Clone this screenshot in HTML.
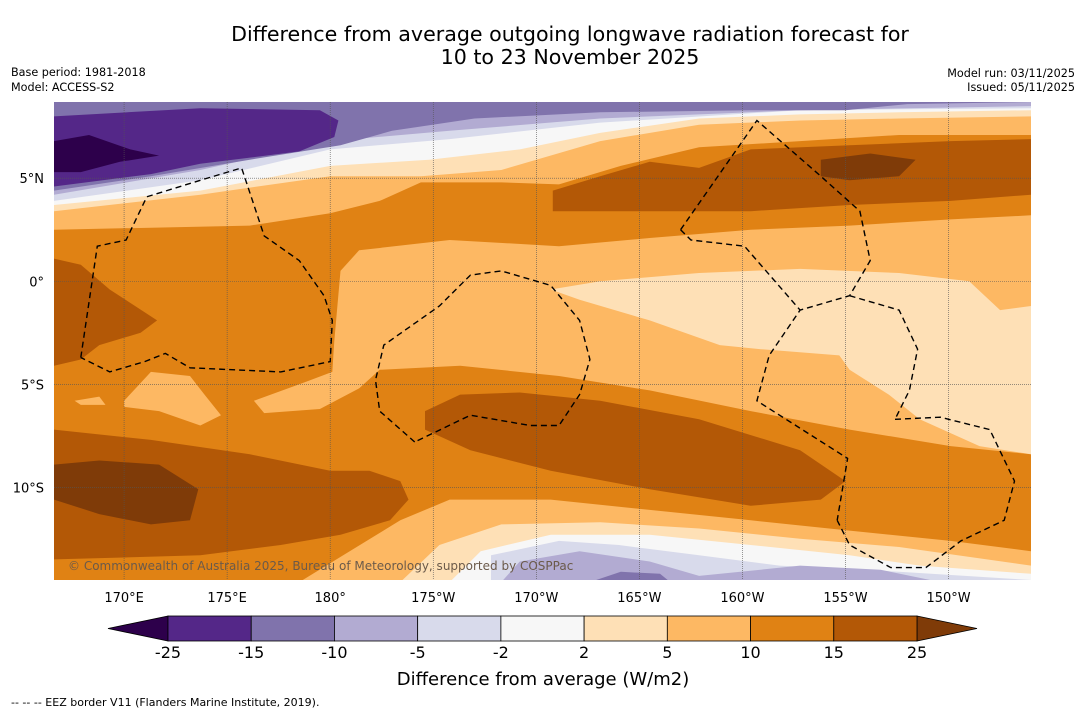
<!DOCTYPE html>
<html><head><meta charset="utf-8"><style>
html,body{margin:0;padding:0;background:#fff;}
svg{display:block;font-family:"DejaVu Sans","Liberation Sans",sans-serif;}
</style></head><body>
<svg id="chart" width="1085" height="713" viewBox="0 0 1085 713">
<text x="570" y="41" font-size="20.6" text-anchor="middle">Difference from average outgoing longwave radiation forecast for</text>
<text x="570" y="64" font-size="20.6" text-anchor="middle">10 to 23 November 2025</text>
<text x="11" y="76" font-size="11.2">Base period: 1981-2018</text>
<text x="11" y="91" font-size="11.2">Model: ACCESS-S2</text>
<text x="1075" y="77" font-size="11.2" text-anchor="end">Model run: 03/11/2025</text>
<text x="1075" y="91" font-size="11.2" text-anchor="end">Issued: 05/11/2025</text>
<defs><clipPath id="mapclip"><rect x="54" y="102" width="977" height="478"/></clipPath></defs>
<g id="map" clip-path="url(#mapclip)"></g>
<g id="axes"></g>
<g id="cbar"></g>
<text x="543" y="685" font-size="18" text-anchor="middle">Difference from average (W/m2)</text>
<text x="11" y="706" font-size="11">--  --  -- EEZ border V11 (Flanders Marine Institute, 2019).</text>
</svg>
<script>
// axis
const lonMin=166.6, lonMax=214.0, latMax=8.7, latMin=-14.5;
const X0=54, X1=1031, Y0=102, Y1=580;
function X(lon){return X0+(lon-lonMin)/(lonMax-lonMin)*(X1-X0);}
function Y(lat){return Y0+(latMax-lat)/(latMax-latMin)*(Y1-Y0);}
const lonTicks=[170,175,180,185,190,195,200,205,210];
const lonTickLabels=["170°E","175°E","180°","175°W","170°W","165°W","160°W","155°W","150°W"];
const latTicks=[5,0,-5,-10];
const latTickLabels=["5°N","0°","5°S","10°S"];
// colour levels
const levels=["-25","-15","-10","-5","-2","2","5","10","15","25"];
const colors=["#2d004b","#542788","#8073ac","#b2abd2","#d8daeb","#f7f7f7","#fee0b6","#fdb863","#e08214","#b35806","#7f3b08"];
// contour bands (lon, lat arrays) in painter order
const topFdbLon=[166.6,171.3,176.1,180,182.4,184.4,188.3,191.1,194.1,197.9,202.8,207.6,214,214,166.6];
const topFdbLat=[2.5,2.6,2.7,3.3,3.9,4.8,4.8,4.7,5.6,6.5,6.8,7.1,7.1,8.7,8.7];
const topFeeLon=[166.6,173.7,180,184.4,188.3,193.1,197.9,202.8,207.6,214,214,166.6];
const topFeeLat=[3.4,4.2,5.1,5.1,5.4,6.8,7.6,7.8,7.9,8.0,8.7,8.7];
const topWhiteLon=[166.6,173.7,180,184.8,189.2,193.1,197.9,202.8,207.6,214,214,166.6];
const topWhiteLat=[3.7,4.4,5.6,5.9,6.4,7.2,7.9,8.1,8.2,8.3,8.7,8.7];
const topD8Lon=[166.6,173.7,180,185.8,193.1,202.8,214,214,166.6];
const topD8Lat=[3.9,4.9,6.4,6.9,7.7,8.3,8.4,8.7,8.7];
const topB2Lon=[166.6,173.7,180,185.8,193.1,202.8,214,214,166.6];
const topB2Lat=[4.2,5.4,6.8,7.3,7.9,8.3,8.5,8.7,8.7];
const top80Lon=[166.6,171.3,176.1,180.5,183,187,193.1,200.4,205,208,214,214,166.6];
const top80Lat=[4.4,5.1,5.9,6.6,7.3,7.9,8.2,8.3,8.3,8.6,8.7,8.8,8.8];
const top54Lon=[166.6,171.3,173.7,178.5,180.2,180.4,179.5,173.7,166.6];
const top54Lat=[4.6,5.2,5.7,6.3,7.0,7.8,8.3,8.4,8.0];
const top2dLon=[166.6,168.3,170.3,171.7,169.8,167.9,166.6];
const top2dLat=[6.8,7.1,6.4,6.1,5.8,5.3,5.3];
const topB35Lon=[190.8,193.1,195.5,197.9,200.4,205.2,210.1,214,214,210.1,205.2,200.4,195.5,190.8];
const topB35Lat=[4.4,5.1,5.8,5.5,6.4,6.6,6.8,6.9,4.2,3.9,3.7,3.4,3.4,3.4];
const top7fLon=[203.8,206.2,208.4,207.6,205.2,203.8];
const top7fLat=[5.9,6.2,5.9,5.1,4.9,5.1];
const midFdbLon=[180.2,180.5,181.4,185.8,191.1,195.5,200.4,205.2,210.1,214,214,210.1,205.2,200.4,195.5,191.1,186.3,182.4,181.4,179.5,176.8,176.3,178.5,180.1];
const midFdbLat=[-2.9,0.5,1.5,2.0,1.7,2.1,2.5,2.7,3.0,3.2,-8.4,-8.0,-7.2,-6.3,-5.3,-4.6,-4.1,-4.3,-5.2,-6.2,-6.4,-5.8,-5.0,-4.4];
const midFeeLon=[190.7,193.1,197.9,202.8,207.6,211,212.5,214,214,211.5,208.6,207.1,205.2,204.7,200.9,198.9,195.5,192.1];
const midFeeLat=[-0.4,0,0.4,0.6,0.4,0,-1.4,-1.2,-8.4,-8,-6.7,-5.5,-4.3,-3.6,-3.3,-3.1,-1.9,-0.9];
const leftFdbLon=[170,171.3,173.2,173.9,174.7,173.7,171.7,170];
const leftFdbLat=[-5.8,-4.4,-4.6,-5.5,-6.5,-7,-6.3,-6.1];
const smallFdbLon=[167.6,168.8,169.1,167.9];
const smallFdbLat=[-5.8,-5.6,-6,-6];
const leftB35Lon=[166.6,167.9,169.3,171.6,170.8,168.8,167.9,166.6];
const leftB35Lat=[1.1,0.8,-0.4,-1.9,-2.5,-3.1,-3.8,-4.1];
const midB35Lon=[184.6,186.3,189.2,193.1,197.9,202.8,205,203.8,200.4,195.5,190.7,186.8,184.6];
const midB35Lat=[-6.3,-5.5,-5.4,-5.8,-6.7,-8.2,-9.7,-10.6,-10.9,-10.1,-9.2,-8.2,-7.2];
const lowB35Lon=[166.6,171.3,176.1,180,181.9,183.4,183.8,182.9,180.5,177.6,173.7,166.6];
const lowB35Lat=[-7.2,-7.7,-8.4,-9.2,-9.2,-9.7,-10.6,-11.6,-12.3,-12.8,-13.3,-13.5];
const low7fLon=[166.6,168.8,171.7,173.6,173.2,171.3,168.8,166.6];
const low7fLat=[-8.9,-8.7,-8.9,-10.1,-11.6,-11.8,-11.3,-10.6];
const botFdbLon=[178.5,183.4,185.8,190.7,195.5,200.4,205.2,210.1,214,214];
const botFdbLat=[-14.6,-11.6,-10.6,-10.6,-11.1,-11.6,-12.1,-12.6,-13.1,-14.6];
const botFeeLon=[183.4,185.3,188.3,193.1,197.9,202.8,207.6,214,214];
const botFeeLat=[-14.6,-12.8,-11.8,-11.7,-12,-12.5,-12.9,-13.8,-14.6];
const botWhiteLon=[185.8,187.3,190.7,195.5,200.4,205.2,208.6,214,214];
const botWhiteLat=[-14.6,-13.1,-12.3,-12.3,-12.8,-13.3,-13.8,-14.2,-14.6];
const botD8Lon=[187.8,187.8,191.1,194,197.9,201.8,207.6,214,214];
const botD8Lat=[-14.6,-13.3,-12.6,-12.8,-13.3,-13.8,-14.1,-14.5,-14.6];
const botB2Lon=[188.3,189.2,192.1,195.5,197.9,199.9,202.8,206.7,209.6];
const botB2Lat=[-14.6,-13.6,-13.1,-13.6,-14.3,-14.1,-13.8,-14,-14.6];
const bot80Lon=[192.6,194.1,196,196.5];
const bot80Lat=[-14.6,-14.1,-14.2,-14.6];
// EEZ borders
const eezALon=[167.9,168.7,170.1,171.1,173.7,175.7,176.8,178.5,179.7,180.1,180,177.6,173.2,172,171,169.3,167.9];
const eezALat=[-3.7,1.7,2,4.1,4.9,5.5,2.2,1,-0.7,-1.9,-3.9,-4.4,-4.2,-3.5,-3.9,-4.4,-3.7];
const eezBLon=[184.1,182.4,182.2,182.6,185.3,186.8,188.3,190.7,192.1,192.6,192.1,191.1,189.7,186.8,184.1];
const eezBLat=[-7.8,-6.3,-4.8,-3.1,-1.2,0.3,0.5,-0.2,-1.9,-3.8,-5.5,-7,-7,-6.5,-7.8];
const eezCLon=[197,200.7,203.8,205.7,206.2,205.2,202.8,201.3,200.7,205.1,204.6];
const eezCLat=[2.5,7.8,5.1,3.4,1,-0.7,-1.4,-3.6,-5.8,-8.6,-11.6];
const eezC2Lon=[197,197.5,200.1,202.8];
const eezC2Lat=[2.5,2,1.7,-1.4];
const eezDLon=[205.2,207.6,208.5,208.1,207.4];
const eezDLat=[-0.7,-1.4,-3.3,-5.3,-6.7];
const eezELon=[207.4,209.6,212,213.2,212.7,210.6,208.9,207.2,205.2,204.6];
const eezELat=[-6.7,-6.6,-7.2,-9.7,-11.6,-12.6,-13.9,-13.9,-12.8,-11.6];

const NS="http://www.w3.org/2000/svg";
const map=document.getElementById('map');
function pts(lo,la){return lo.map((v,i)=>X(v).toFixed(1)+','+Y(la[i]).toFixed(1)).join(' ');}
const bg=document.createElementNS(NS,'rect');
bg.setAttribute('x',X(lonMin));bg.setAttribute('y',Y(latMax));
bg.setAttribute('width',X(lonMax)-X(lonMin));bg.setAttribute('height',Y(latMin)-Y(latMax));
bg.setAttribute('fill',colors[8]);


map.appendChild(bg);
const bands=[
 [topFdbLon,topFdbLat,7,'band-5-10-north'],[topFeeLon,topFeeLat,6,'band-2-5-north'],[topWhiteLon,topWhiteLat,5,'band-neutral-north'],
 [topD8Lon,topD8Lat,4,'band-m5-m2-north'],[topB2Lon,topB2Lat,3,'band-m10-m5-north'],[top80Lon,top80Lat,2,'band-m15-m10-north'],
 [top54Lon,top54Lat,1,'band-m25-m15-north'],[top2dLon,top2dLat,0,'band-below-m25-north'],
 [topB35Lon,topB35Lat,9,'band-15-25-northeast'],[top7fLon,top7fLat,10,'band-above-25-northeast'],
 [midFdbLon,midFdbLat,7,'band-5-10-central'],[midFeeLon,midFeeLat,6,'band-2-5-central'],
 [leftFdbLon,leftFdbLat,7,'band-5-10-west-blob'],[smallFdbLon,smallFdbLat,7,'band-5-10-small-blob'],
 [leftB35Lon,leftB35Lat,9,'band-15-25-west'],[midB35Lon,midB35Lat,9,'band-15-25-central'],
 [lowB35Lon,lowB35Lat,9,'band-15-25-southwest'],[low7fLon,low7fLat,10,'band-above-25-southwest'],
 [botFdbLon,botFdbLat,7,'band-5-10-south'],[botFeeLon,botFeeLat,6,'band-2-5-south'],[botWhiteLon,botWhiteLat,5,'band-neutral-south'],
 [botD8Lon,botD8Lat,4,'band-m5-m2-south'],[botB2Lon,botB2Lat,3,'band-m10-m5-south'],[bot80Lon,bot80Lat,2,'band-m15-m10-south']
];
bands.forEach(b=>{
 const p=document.createElementNS(NS,'polygon');
 p.setAttribute('points',pts(b[0],b[1]));
 p.setAttribute('fill',colors[b[2]]);
 
 
 map.appendChild(p);
});
// grid
lonTicks.forEach(l=>{
 const g=document.createElementNS(NS,'line');
 g.setAttribute('x1',X(l));g.setAttribute('x2',X(l));g.setAttribute('y1',Y0);g.setAttribute('y2',Y1);
 g.setAttribute('stroke','#555');g.setAttribute('stroke-width','0.6');g.setAttribute('stroke-dasharray','1,1');
 
 
 map.appendChild(g);
});
latTicks.forEach(l=>{
 const g=document.createElementNS(NS,'line');
 g.setAttribute('y1',Y(l));g.setAttribute('y2',Y(l));g.setAttribute('x1',X0);g.setAttribute('x2',X1);
 g.setAttribute('stroke','#555');g.setAttribute('stroke-width','0.6');g.setAttribute('stroke-dasharray','1,1');
 
 
 map.appendChild(g);
});
// EEZ
[[eezALon,eezALat],[eezBLon,eezBLat],[eezCLon,eezCLat],[eezC2Lon,eezC2Lat],[eezDLon,eezDLat],[eezELon,eezELat]].forEach(e=>{
 const p=document.createElementNS(NS,'polyline');
 p.setAttribute('points',pts(e[0],e[1]));
 p.setAttribute('fill','none');p.setAttribute('stroke','#000');p.setAttribute('stroke-width','1.4');
 p.setAttribute('stroke-dasharray','6,4');
 
 
 map.appendChild(p);
});
const cp=document.createElementNS(NS,'text');
cp.setAttribute('x',68);cp.setAttribute('y',570);cp.setAttribute('font-size','12');cp.setAttribute('fill','#6b5a4a');
cp.textContent='© Commonwealth of Australia 2025, Bureau of Meteorology, supported by COSPPac';


map.appendChild(cp);
// tick labels
const axes=document.getElementById('axes');
lonTicks.forEach((l,i)=>{
 const t=document.createElementNS(NS,'text');
 t.setAttribute('x',X(l));t.setAttribute('y',602);t.setAttribute('font-size','13');t.setAttribute('text-anchor','middle');
 t.textContent=lonTickLabels[i];
 
 
 axes.appendChild(t);
});
latTicks.forEach((l,i)=>{
 const t=document.createElementNS(NS,'text');
 t.setAttribute('x',44);t.setAttribute('y',Y(l)+5);t.setAttribute('font-size','13');t.setAttribute('text-anchor','end');
 t.textContent=latTickLabels[i];
 
 
 axes.appendChild(t);
});
// colorbar
const cb=document.getElementById('cbar');
const cbL=168, cbR=917, cbT=616, cbB=641, triW=60;
const segW=(cbR-cbL)/(levels.length-1);
const lt=document.createElementNS(NS,'polygon');
lt.setAttribute('points',`${cbL},${cbT} ${cbL-triW},${(cbT+cbB)/2} ${cbL},${cbB}`);
lt.setAttribute('fill',colors[0]);lt.setAttribute('stroke','#000');lt.setAttribute('stroke-width','0.8');


cb.appendChild(lt);
const rt=document.createElementNS(NS,'polygon');
rt.setAttribute('points',`${cbR},${cbT} ${cbR+triW},${(cbT+cbB)/2} ${cbR},${cbB}`);
rt.setAttribute('fill',colors[10]);rt.setAttribute('stroke','#000');rt.setAttribute('stroke-width','0.8');


cb.appendChild(rt);
for(let i=0;i<levels.length-1;i++){
 const r=document.createElementNS(NS,'rect');
 r.setAttribute('x',cbL+i*segW);r.setAttribute('y',cbT);r.setAttribute('width',segW);r.setAttribute('height',cbB-cbT);
 r.setAttribute('fill',colors[i+1]);r.setAttribute('stroke','#000');r.setAttribute('stroke-width','0.8');
 
 
 cb.appendChild(r);
}
levels.forEach((v,i)=>{
 const t=document.createElementNS(NS,'text');
 t.setAttribute('x',cbL+i*segW);t.setAttribute('y',658);t.setAttribute('font-size','16');t.setAttribute('text-anchor','middle');
 t.textContent=v;
 
 
 cb.appendChild(t);
});
</script>
</body></html>
